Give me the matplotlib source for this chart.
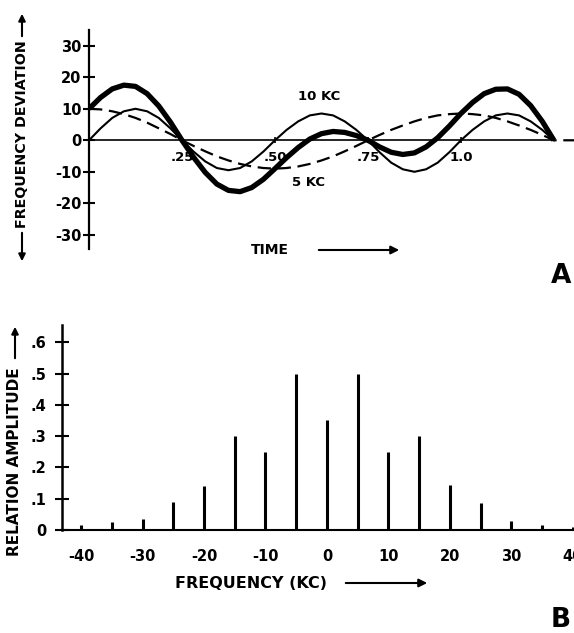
import numpy as np
import matplotlib.pyplot as plt

# ---- data ----
# panel A: time axis (1/32 steps) and the three deviation curves
time = np.arange(41) / 32
dev_5kc = [10, 9.8, 9.2, 8.3, 7.1, 5.6, 3.8, 2.0, 0,
           -1.8, -3.5, -5.1, -6.4, -7.5, -8.3, -8.8, -9.0,
           -8.8, -8.3, -7.5, -6.4, -5.1, -3.5, -1.8, 0,
           1.7, 3.3, 4.7, 6.0, 7.1, 7.9, 8.3, 8.5,
           8.3, 7.9, 7.1, 6.0, 4.7, 3.3, 1.7, 0]
dev_10kc = [0, 3.8, 7.1, 9.2, 10, 9.2, 7.1, 3.8, 0,
            -3.6, -6.7, -8.8, -9.5, -8.8, -6.7, -3.6, 0,
            3.3, 6.0, 7.9, 8.5, 7.9, 6.0, 3.3, 0,
            -3.8, -7.1, -9.2, -10, -9.2, -7.1, -3.8, 0,
            3.3, 6.0, 7.9, 8.5, 7.9, 6.0, 3.3, 0]
dev_total = [10, 13.6, 16.3, 17.5, 17.1, 14.8, 10.9, 5.8, 0,
             -5.4, -10.2, -13.9, -15.9, -16.3, -15.0, -12.4, -9.0,
             -5.5, -2.3, 0.4, 2.1, 2.8, 2.5, 1.5, 0,
             -2.1, -3.8, -4.5, -4.0, -2.1, 0.8, 4.5, 8.5,
             12.0, 14.8, 16.2, 16.3, 14.6, 11.0, 6.0, 0]
time_ticks = [0.25, 0.50, 0.75, 1.0]
time_labels = ['.25', '.50', '.75', '1.0']
dev_ticks = [-30, -20, -10, 0, 10, 20, 30]

# panel B: spectrum lines
freq = [-40, -35, -30, -25, -20, -15, -10, -5, 0, 5, 10, 15, 20, 25, 30, 35, 40]
amp = [0.015, 0.025, 0.035, 0.09, 0.14, 0.30, 0.25, 0.50, 0.35,
       0.50, 0.25, 0.30, 0.145, 0.085, 0.03, 0.015, 0.008]
amp_ticks = [0, 0.1, 0.2, 0.3, 0.4, 0.5, 0.6]
amp_labels = ['0', '.1', '.2', '.3', '.4', '.5', '.6']
freq_ticks = [-40, -30, -20, -10, 0, 10, 20, 30, 40]

W, H = 574, 633
fx = lambda px: px / W
fy = lambda py: 1 - py / H


def fig_arrow(x0, y0, x1, y1, size=11):
    # arrow drawn in figure pixels (from reference), head at (x1, y1)
    fig.add_artist(plt.Annotation('', xy=(fx(x1), fy(y1)), xytext=(fx(x0), fy(y0)),
                                  xycoords='figure fraction', textcoords='figure fraction',
                                  arrowprops=dict(arrowstyle='-|>', color='black', lw=1.5,
                                                  mutation_scale=size)))


plt.rcParams['font.family'] = 'DejaVu Sans'
plt.rcParams['font.weight'] = 'bold'
fig = plt.figure(figsize=(W / 100, H / 100), dpi=100)

# ---------- panel A ----------
ax1 = fig.add_axes([fx(89), fy(249), 485 / W, 219 / H])
ax1.plot(time, dev_10kc, color='black', lw=1.5)
ax1.plot(list(time) + [1.32], dev_5kc + [0], color='black', lw=1.6,
         linestyle=(0, (6, 3)))
ax1.plot(time, dev_total, color='black', lw=3.8, solid_capstyle='butt')
ax1.set_xlim(0, 1.304)
ax1.set_ylim(-34.5, 35)
for s in ['top', 'right']:
    ax1.spines[s].set_visible(False)
ax1.spines['bottom'].set_position(('data', 0))
ax1.spines['bottom'].set_bounds(0, 1.25)
ax1.spines['left'].set_linewidth(1.6)
ax1.spines['bottom'].set_linewidth(1.2)
ax1.set_yticks(dev_ticks)
ax1.set_yticklabels([str(v) for v in dev_ticks], fontsize=10.5, fontweight='bold')
ax1.tick_params(axis='y', direction='inout', length=9, width=1.5, pad=1)
ax1.set_xticks(time_ticks)
ax1.set_xticklabels(time_labels, fontsize=9.5, fontweight='bold')
ax1.tick_params(axis='x', direction='inout', length=5, width=1.2, pad=5)
ax1.text(0.62, 14, '10 KC', fontsize=9.5, fontweight='bold', ha='center', va='center')
ax1.text(0.59, -13.5, '5 KC', fontsize=9.5, fontweight='bold', ha='center', va='center')

fig.text(fx(270), fy(250), 'TIME', fontsize=10, fontweight='bold', ha='center', va='center')
fig_arrow(316, 250, 402, 250, 12)
fig.text(fx(22), fy(134), 'FREQUENCY DEVIATION', fontsize=10.3, fontweight='bold',
         rotation=90, ha='center', va='center')
fig_arrow(22, 39, 22, 11, 10)
fig_arrow(22, 230, 22, 264, 10)
fig.text(fx(561), fy(276), 'A', fontsize=19, fontweight='heavy', ha='center', va='center')

# ---------- panel B ----------
ax2 = fig.add_axes([fx(62), fy(530), 512 / W, 205 / H])
ax2.vlines(freq, 0, amp, color='black', lw=2.2)
ax2.set_xlim(-43.1, 40.2)
ax2.set_ylim(0, 0.655)
for s in ['top', 'right']:
    ax2.spines[s].set_visible(False)
ax2.spines['left'].set_linewidth(1.8)
ax2.spines['bottom'].set_linewidth(1.5)
ax2.set_yticks(amp_ticks)
ax2.set_yticklabels(amp_labels, fontsize=10.5, fontweight='bold')
ax2.tick_params(axis='y', direction='inout', length=10, width=1.5, pad=6)
ax2.set_xticks(freq_ticks)
ax2.set_xticklabels([str(v) for v in freq_ticks], fontsize=10.5, fontweight='bold')
ax2.tick_params(axis='x', length=0, pad=14)

fig.text(fx(251), fy(583), 'FREQUENCY (KC)', fontsize=11.5, fontweight='bold',
         ha='center', va='center')
fig_arrow(343, 583, 430, 583, 12)
fig.text(fx(15), fy(462), 'RELATION AMPLITUDE', fontsize=11, fontweight='bold',
         rotation=90, ha='center', va='center')
fig_arrow(15, 361, 15, 324, 10)
fig.text(fx(561), fy(620), 'B', fontsize=19, fontweight='heavy', ha='center', va='center')

fig.savefig('out.png', dpi=100)
